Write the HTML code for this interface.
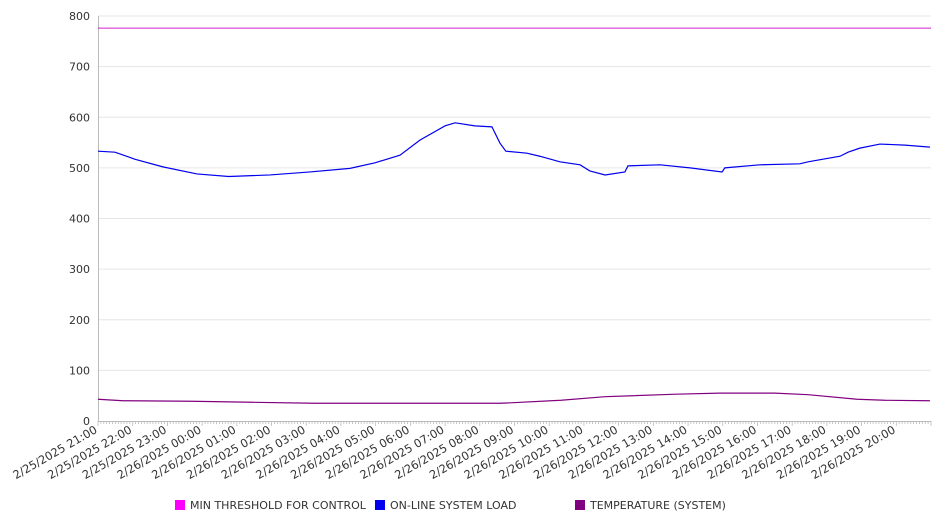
<!DOCTYPE html>
<html><head><meta charset="utf-8"><style>
body{margin:0;background:#fff;}
svg text{font-family:"DejaVu Sans","Liberation Sans",sans-serif;fill:#333;}
</style></head><body>
<svg id="chart" width="946" height="526" xmlns="http://www.w3.org/2000/svg">
<g id="grid"></g>
<g id="axes"></g>
<g id="series"></g>
<g id="legend"></g>
</svg>
<script>
const yTicks=[0,100,200,300,400,500,600,700,800];
const xLabels=["2/25/2025 21:00","2/25/2025 22:00","2/25/2025 23:00","2/26/2025 00:00","2/26/2025 01:00","2/26/2025 02:00","2/26/2025 03:00","2/26/2025 04:00","2/26/2025 05:00","2/26/2025 06:00","2/26/2025 07:00","2/26/2025 08:00","2/26/2025 09:00","2/26/2025 10:00","2/26/2025 11:00","2/26/2025 12:00","2/26/2025 13:00","2/26/2025 14:00","2/26/2025 15:00","2/26/2025 16:00","2/26/2025 17:00","2/26/2025 18:00","2/26/2025 19:00","2/26/2025 20:00"];
const thresholdHours=[0,24];
const thresholdValues=[776,776];
const loadHours=[0,0.49,1.07,1.87,2.85,3.77,4.96,6.11,7.26,7.98,8.70,9.28,10.0,10.29,10.86,11.35,11.58,11.75,12.36,12.73,13.31,13.89,14.17,14.61,15.18,15.27,16.19,17.06,17.98,18.06,19.07,20.22,20.46,21.38,21.61,21.95,22.53,23.25,23.97];
const loadValues=[533,531,517,502,488,483,486,492,499,510,525,555,583,589,583,581,549,533,529,523,512,506,494,486,492,504,506,500,492,500,506,508,512,523,531,539,547,545,541];
const tempHours=[0,0.72,2.68,4.44,6.25,11.61,13.34,14.61,16.65,17.92,19.5,20.46,21.87,22.67,23.97];
const tempValues=[43,40,39,37,35,35,41,48,53,55,55,52,43,41,40];
const legendNames=["MIN THRESHOLD FOR CONTROL","ON-LINE SYSTEM LOAD","TEMPERATURE (SYSTEM)"];
const legendColors=["#ff00ff","#0000ee","#800080"];

const X0=98,X1=931,Y0=421,Y1=16;
const xs=h=>X0+(X1-X0)*h/24;
const ys=v=>Y0-(Y0-Y1)*v/800;
const NS="http://www.w3.org/2000/svg";
function mk(tag,parent,attrs){const e=document.createElementNS(NS,tag);for(const k in attrs)e.setAttribute(k,attrs[k]);parent.appendChild(e);return e;}
const grid=document.getElementById('grid'),axes=document.getElementById('axes'),series=document.getElementById('series'),legend=document.getElementById('legend');
yTicks.forEach(v=>{
 if(v>0){const l=mk('line',grid,{x1:X0,x2:X1,y1:ys(v),y2:ys(v),stroke:'#e6e6e6','stroke-width':1});
 
 }
 const t=mk('text',axes,{x:90,y:ys(v)+4,'text-anchor':'end','font-size':11});
 t.textContent=v;
 
 
});
const ya=mk('line',axes,{x1:X0+0.5,x2:X0+0.5,y1:Y1,y2:Y0,stroke:'#bbb'});


const xa=mk('line',axes,{x1:X0,x2:X1,y1:Y0+0.5,y2:Y0+0.5,stroke:'#bbb'});


for(let i=0;i<=288;i++){const x=X0+(X1-X0)*i/288;
 const tk=mk('line',axes,{x1:x,x2:x,y1:Y0,y2:Y0+(i%12?3:5),stroke:'#bbb','stroke-width':0.8});
 
 }
xLabels.forEach((s,i)=>{const x=xs(i);
 const t=mk('text',axes,{x:x,y:Y0+11,'text-anchor':'end','font-size':11.4,transform:`rotate(-30 ${x} ${Y0+11})`});
 t.textContent=s;
 
 });
function line(hs,vs,color,name,w){
 const p=mk('polyline',series,{points:hs.map((h,i)=>xs(h)+','+ys(vs[i])).join(' '),fill:'none',stroke:color,'stroke-width':w});
 
 }
line(thresholdHours,thresholdValues,'#d020d0','threshold-line',1);
line(loadHours,loadValues,legendColors[1],'system-load-line',1.2);
line(tempHours,tempValues,legendColors[2],'temperature-line',1.2);
const lx=[175,375,575];
legendNames.forEach((n,i)=>{
 const r=mk('rect',legend,{x:lx[i],y:500,width:10,height:10,fill:legendColors[i]});
 
 
 const t=mk('text',legend,{x:lx[i]+15,y:509,'font-size':11});
 t.textContent=n;
 
 });
</script>
</body></html>
